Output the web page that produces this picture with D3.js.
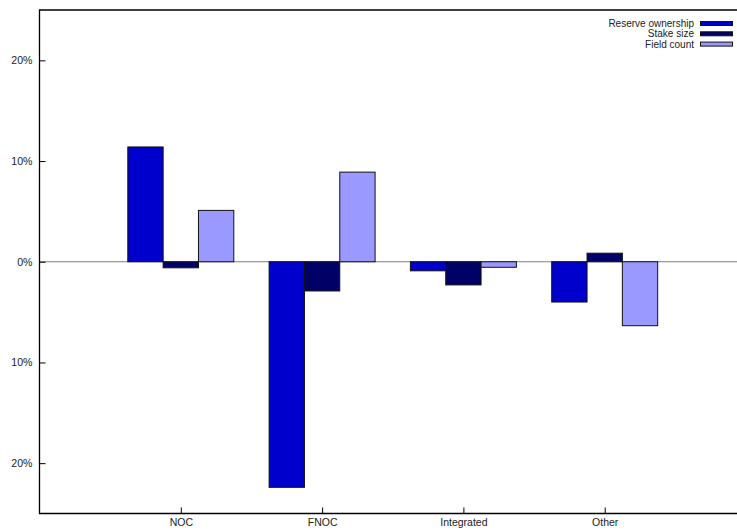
<!DOCTYPE html>
<html>
<head>
<meta charset="utf-8">
<script src="https://cdn.jsdelivr.net/npm/d3@7/dist/d3.min.js"></script>
<style>
  html, body { margin: 0; padding: 0; background: #fff; }
  svg { display: block; }
  text { font-family: "Liberation Sans", Arial, Helvetica, sans-serif; fill: #222; }
</style>
</head>
<body>
<svg id="chart" width="737" height="530"></svg>
<script>
// Owner categories along the x axis
const categories = ["NOC", "FNOC", "Integrated", "Other"];

// Series names, in legend order
const seriesNames = ["Reserve ownership", "Stake size", "Field count"];
const seriesColors = ["#0000cc", "#000066", "#9999ff"];

// Values per series (percent), one per category
const reserveOwnership = [11.4, -22.4, -0.9, -4.0];
const stakeSize = [-0.6, -2.9, -2.3, 0.85];
const fieldCount = [5.1, 8.9, -0.55, -6.35];

// Y tick values (percent); labels show magnitude only
const yTicks = [-20, -10, 0, 10, 20];

const series = [reserveOwnership, stakeSize, fieldCount];

const svg = d3.select("#chart");

const plotLeft = 39.5, plotTop = 10, plotBottom = 513.5, unit = 141.3;

// Categories sit at 1..4 on a continuous axis from 0 to 5
const x = d3.scaleLinear().domain([0, 5]).range([plotLeft, plotLeft + 5 * unit]);
const y = d3.scaleLinear().domain([-25, 25]).range([plotBottom, plotTop]);

const barW = 0.25;

// Zero line
svg.append("line")
  .attr("x1", plotLeft).attr("x2", 737)
  .attr("y1", y(0)).attr("y2", y(0))
  .attr("stroke", "#808080").attr("stroke-width", 1.2);

// Bars
series.forEach((vals, s) => {
  svg.append("g").selectAll("rect")
    .data(vals)
    .join("rect")
    .attr("x", (d, i) => x(i + 1 + (s - 1) * barW - barW / 2))
    .attr("width", x(barW) - x(0))
    .attr("y", d => y(Math.max(0, d)))
    .attr("height", d => Math.abs(y(d) - y(0)))
    .attr("fill", seriesColors[s])
    .attr("stroke", "#111")
    .attr("stroke-width", 1);
});

// Y axis (ticks point inward)
const yAxis = d3.axisLeft(y)
  .tickValues(yTicks)
  .tickSize(-6)
  .tickPadding(7)
  .tickFormat(d => Math.abs(d) + "%");
const gy = svg.append("g").attr("transform", `translate(${plotLeft},0)`).call(yAxis);
gy.select(".domain").remove();
gy.selectAll(".tick line").attr("stroke", "#000");
gy.selectAll(".tick text").attr("font-size", 10.6).attr("fill", "#222")
  .attr("font-family", "Liberation Sans, Arial, sans-serif");

// X axis (ticks point inward)
const xAxis = d3.axisBottom(x)
  .tickValues(categories.map((c, i) => i + 1))
  .tickSize(-6)
  .tickPadding(5)
  .tickFormat((d, i) => categories[i]);
const gx = svg.append("g").attr("transform", `translate(0,${plotBottom})`).call(xAxis);
gx.select(".domain").remove();
gx.selectAll(".tick line").attr("stroke", "#000");
gx.selectAll(".tick text").attr("font-size", 10.5).attr("fill", "#222")
  .attr("font-family", "Liberation Sans, Arial, sans-serif");

// Frame
svg.append("path")
  .attr("d", `M737,${plotTop}H${plotLeft}V${plotBottom}H737`)
  .attr("fill", "none").attr("stroke", "#000").attr("stroke-width", 1.3);

// Legend
const legend = svg.append("g");
seriesNames.forEach((name, s) => {
  const ly = 23.5 + s * 10.3;
  legend.append("text")
    .attr("x", 694).attr("y", ly + 3.6)
    .attr("text-anchor", "end")
    .attr("font-size", 10)
    .text(name);
  legend.append("rect")
    .attr("x", 700.5).attr("y", ly - 2)
    .attr("width", 32).attr("height", 4)
    .attr("fill", seriesColors[s])
    .attr("stroke", "#111").attr("stroke-width", 1);
});
</script>
</body>
</html>
